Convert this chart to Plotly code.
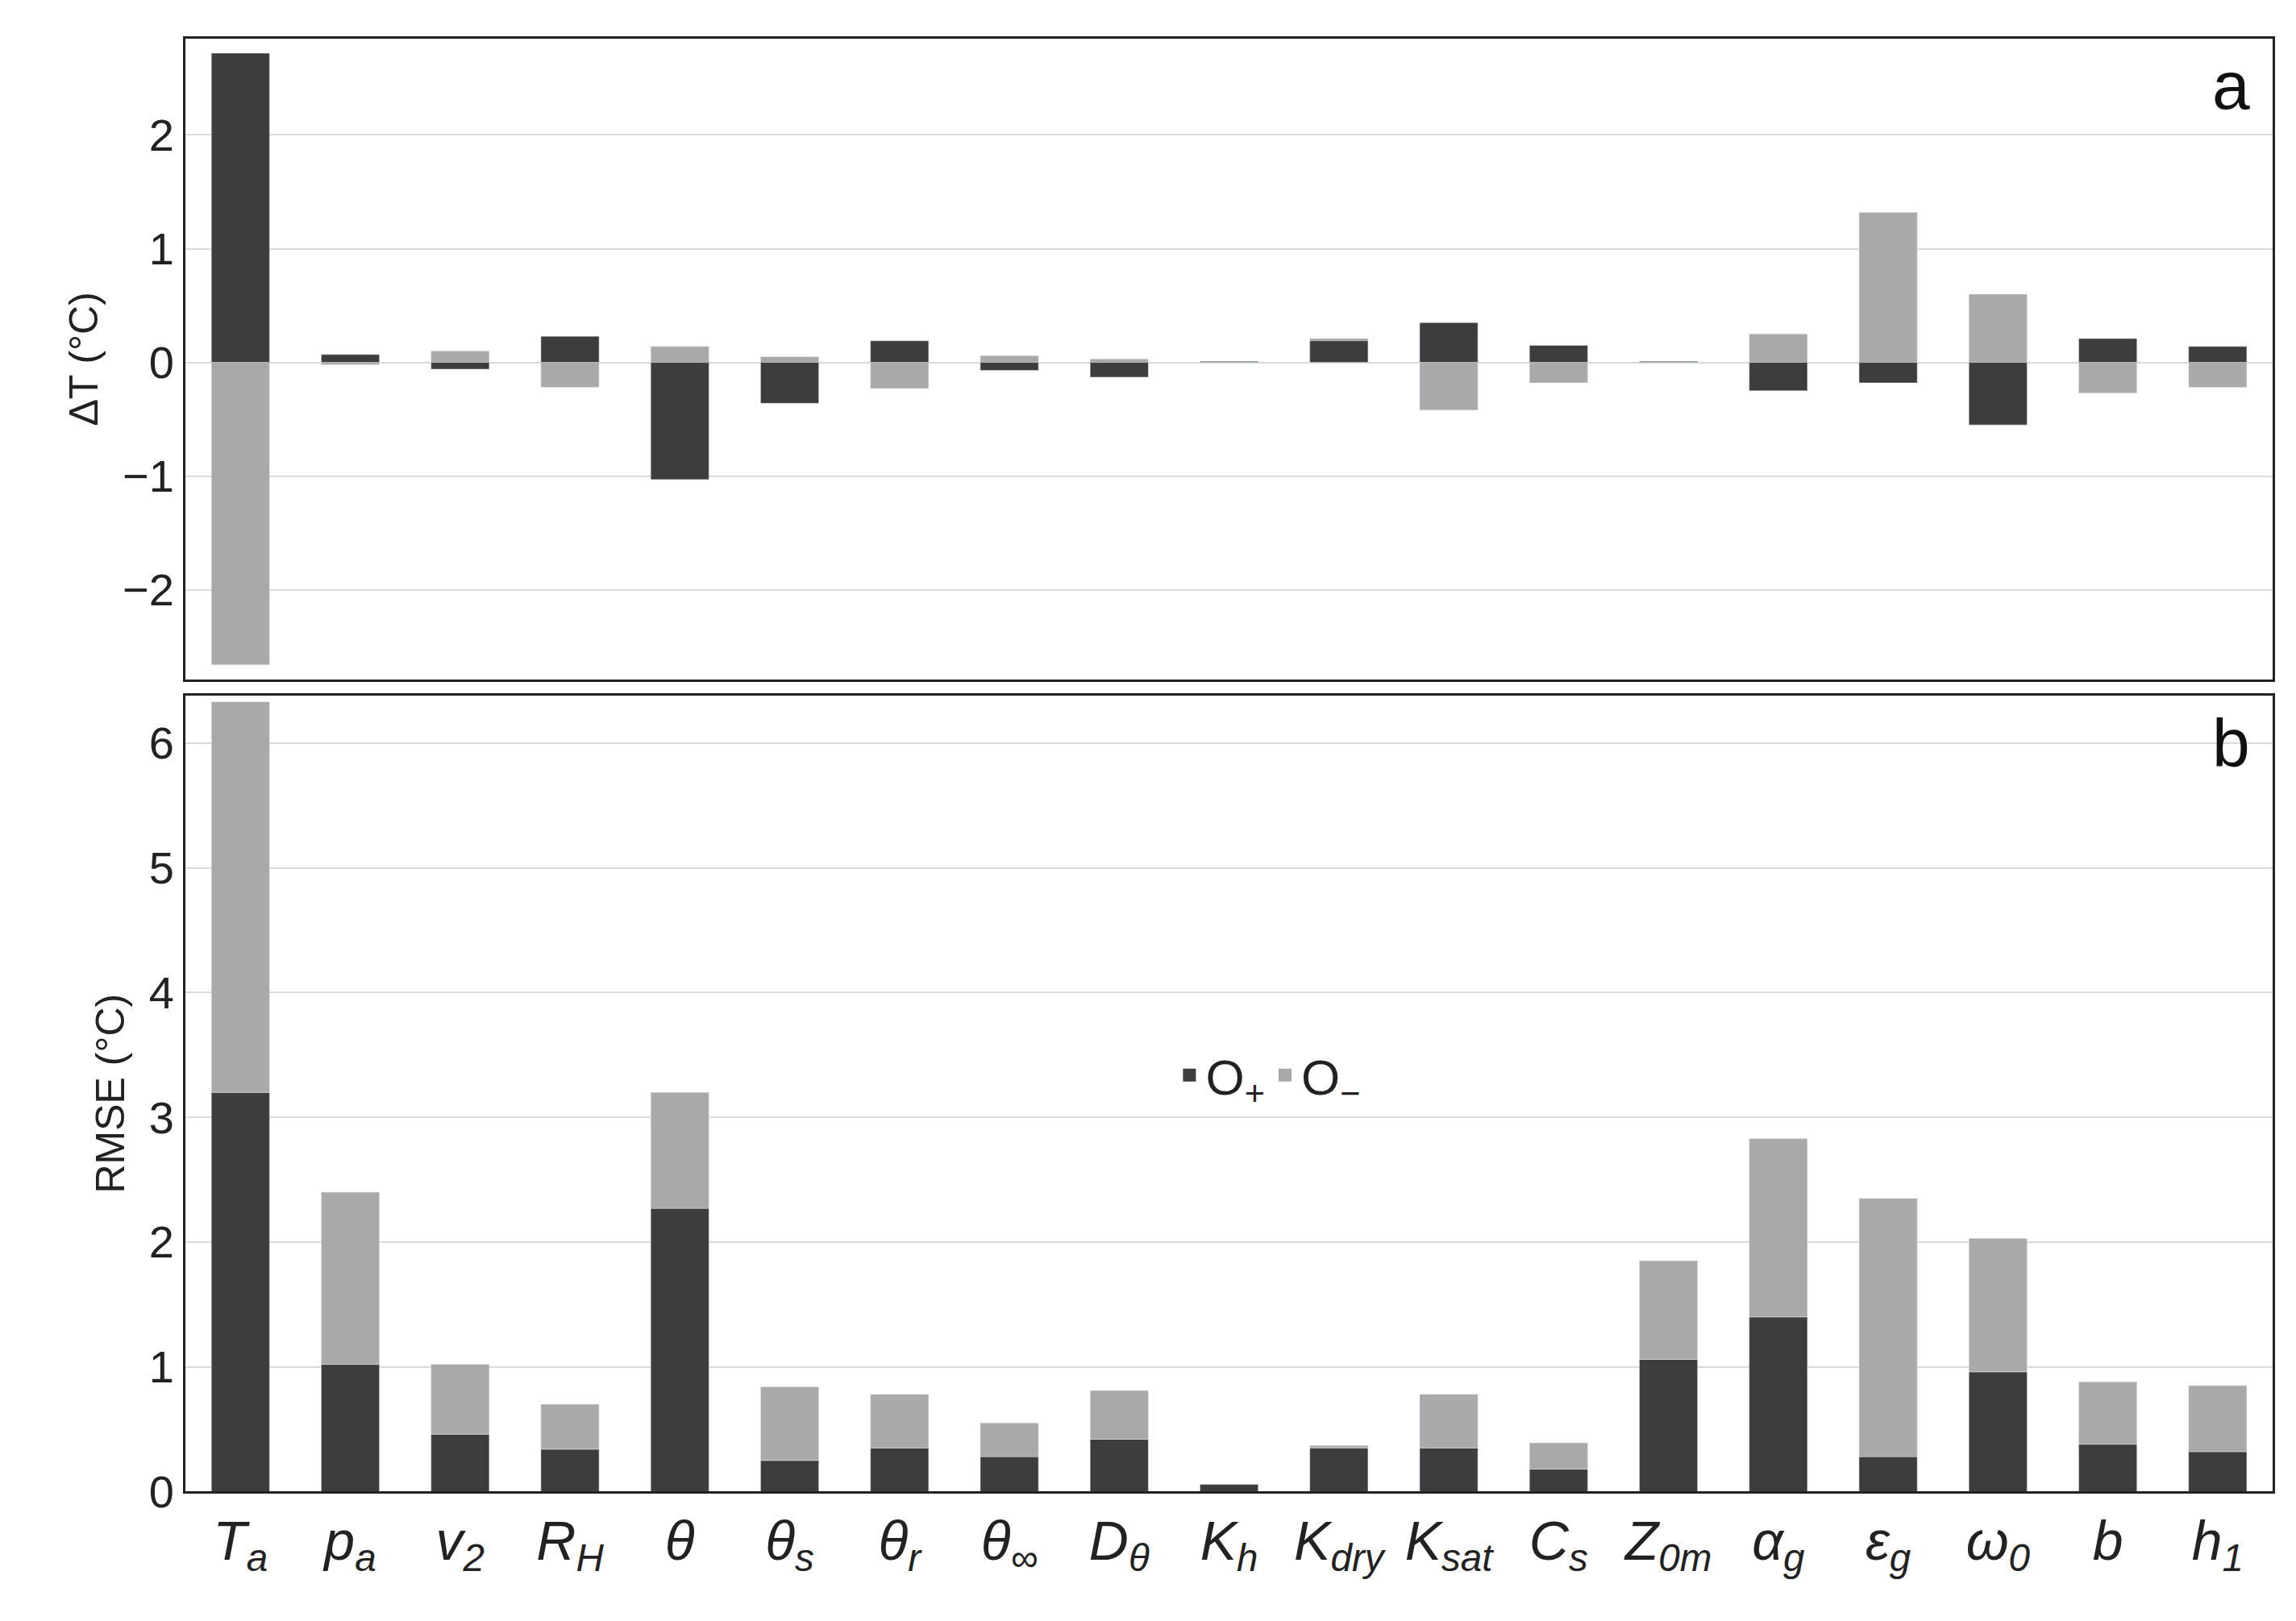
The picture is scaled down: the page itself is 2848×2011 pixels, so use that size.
import plotly.graph_objects as go
from plotly.subplots import make_subplots

params = ["<i>T<sub>a</sub></i>", "<i>p<sub>a</sub></i>", "<i>v<sub>2</sub></i>", "<i>R<sub>H</sub></i>",
          "<i>θ</i>", "<i>θ<sub>s</sub></i>", "<i>θ<sub>r</sub></i>", "<i>θ<sub>∞</sub></i>",
          "<i>D<sub>θ</sub></i>", "<i>K<sub>h</sub></i>", "<i>K<sub>dry</sub></i>", "<i>K<sub>sat</sub></i>",
          "<i>C<sub>s</sub></i>", "<i>Z<sub>0m</sub></i>", "<i>α<sub>g</sub></i>", "<i>ε<sub>g</sub></i>",
          "<i>ω<sub>0</sub></i>", "<i>b</i>", "<i>h<sub>1</sub></i>"]

# panel a: temperature change for O+ and O- perturbations
dt_plus = [2.72, 0.07, -0.06, 0.23, -1.03, -0.36, 0.19, -0.07, -0.13, 0.01,
           0.19, 0.35, 0.15, 0.01, -0.25, -0.18, -0.55, 0.21, 0.14]
dt_minus = [-2.66, -0.02, 0.10, -0.22, 0.14, 0.05, -0.23, 0.06, 0.03, 0.0,
            0.21, -0.42, -0.18, 0.0, 0.25, 1.32, 0.60, -0.27, -0.22]

# panel b: RMSE, stacked
rmse_plus = [3.20, 1.02, 0.46, 0.34, 2.27, 0.25, 0.35, 0.28, 0.42, 0.06,
             0.35, 0.35, 0.18, 1.06, 1.40, 0.28, 0.96, 0.38, 0.32]
rmse_total = [6.33, 2.40, 1.02, 0.70, 3.20, 0.84, 0.78, 0.55, 0.81, 0.06,
              0.37, 0.78, 0.39, 1.85, 2.83, 2.35, 2.03, 0.88, 0.85]
rmse_minus = [t - p for t, p in zip(rmse_total, rmse_plus)]

DARK = "#3d3d3d"
LIGHT = "#a9a9a9"
W = 0.53

fig = make_subplots(rows=2, cols=1)

fig.add_trace(go.Bar(x=params, y=dt_minus, marker_color=LIGHT, width=W, showlegend=False), 1, 1)
fig.add_trace(go.Bar(x=params, y=dt_plus, marker_color=DARK, width=W, showlegend=False), 1, 1)

fig.add_trace(go.Bar(x=params, y=rmse_plus, marker_color=DARK, width=W, showlegend=False,
                     base=0, offsetgroup="b"), 2, 1)
fig.add_trace(go.Bar(x=params, y=rmse_minus, marker_color=LIGHT, width=W, showlegend=False,
                     base=rmse_plus, offsetgroup="b"), 2, 1)

# legend entries with big square swatches
for name, col in [("O<sub>+</sub>", DARK), ("O<sub>−</sub>", LIGHT)]:
    fig.add_trace(go.Scatter(x=[None], y=[None], mode="markers", name=name,
                             marker=dict(symbol="square", size=52, color=col)), 2, 1)

fig.update_layout(
    barmode="overlay",
    width=2848, height=2011,
    margin=dict(l=0, r=0, t=0, b=0),
    plot_bgcolor="white", paper_bgcolor="white",
    font=dict(family="Liberation Sans, Arial", color="#222"),
    legend=dict(orientation="h", x=0.55, y=0.33, xanchor="center", yanchor="middle",
                font=dict(size=62), bgcolor="rgba(0,0,0,0)", itemwidth=30),
    xaxis=dict(domain=[0.078, 0.987], anchor="y", showticklabels=False),
    xaxis2=dict(domain=[0.078, 0.987], anchor="y2", tickfont=dict(size=68), ticks=""),
    yaxis=dict(domain=[0.578, 0.980], range=[-2.79, 2.85], title=dict(text="ΔT (°C)", font=dict(size=50)),
               tickfont=dict(size=56), gridcolor="#d9d9d9", gridwidth=2, zeroline=True,
               zerolinecolor="#d9d9d9", zerolinewidth=2,
               tickvals=[-2, -1, 0, 1, 2], ticktext=["−2", "−1", "0", "1", "2"]),
    yaxis2=dict(domain=[0.069, 0.568], range=[0, 6.38], dtick=1, title=dict(text="RMSE (°C)", font=dict(size=50)),
                tickfont=dict(size=56), gridcolor="#d9d9d9", gridwidth=2, zeroline=False),
)
for ax in ["xaxis", "xaxis2", "yaxis", "yaxis2"]:
    fig.layout[ax].update(showline=True, linecolor="#222", linewidth=3, mirror=True)

fig.add_annotation(text="a", xref="paper", yref="paper", x=0.978, y=0.975, xanchor="right", yanchor="top",
                   showarrow=False, font=dict(size=84, color="#111"))
fig.add_annotation(text="b", xref="paper", yref="paper", x=0.978, y=0.563, xanchor="right", yanchor="top",
                   showarrow=False, font=dict(size=84, color="#111"))

fig.write_html("out.html")
